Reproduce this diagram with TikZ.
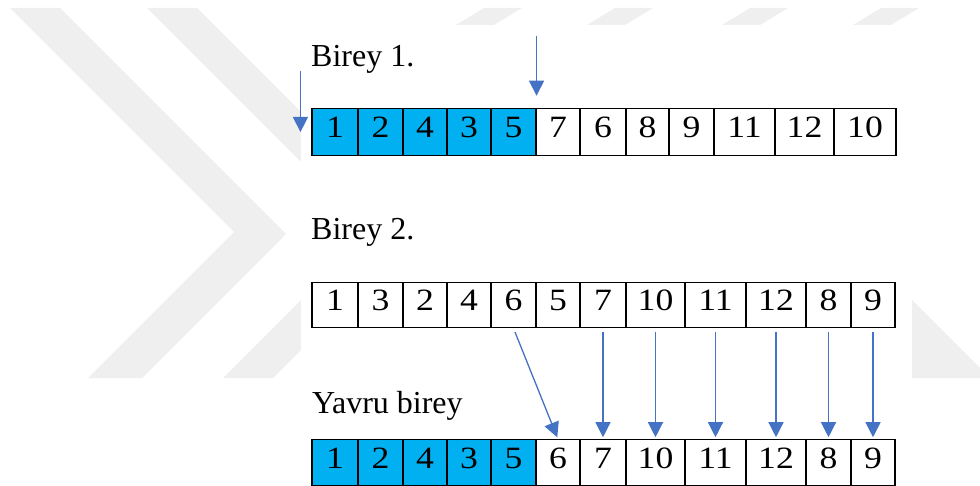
\documentclass[tikz,border=0pt]{standalone}
\usepackage{fontspec}
\setmainfont{Liberation Serif}
\newfontfamily\cellfont[FakeStretch=1.15]{Liberation Serif}
\usetikzlibrary{arrows.meta}
\definecolor{kutu}{RGB}{0,176,240}
\definecolor{okmavi}{RGB}{68,114,196}
\definecolor{filigran}{RGB}{239,239,239}

\begin{document}
\begin{tikzpicture}[x=1pt,y=-1pt]
	\tikzstyle{cell}=[draw=black, line width=1.1pt, inner sep=0pt, minimum height=45.5pt, text height=16pt, text depth=4pt, font=\cellfont\fontsize{31}{36}\selectfont]
	\tikzstyle{tall}=[minimum height=47.5pt]
	\tikzstyle{sel}=[fill=kutu]
	\tikzstyle{title}=[anchor=base west, inner sep=0pt, font=\fontsize{32}{38}\selectfont]
	\tikzstyle{flow}=[draw=okmavi, line width=1.3pt, -{Triangle[width=15pt,length=15pt]}]
	\tikzstyle{gap}=[shorten <=4pt, shorten >=2pt]
	\useasboundingbox (0,0) rectangle (980,486);
	% faint logo behind the page
	\fill[filigran] (10,8) -- (60,8) -- (286,234) -- (142,378) -- (88,378) -- (234,232) -- cycle;
	\fill[filigran] (147,8) -- (197,8) -- (420,231) -- (273,378) -- (223,378) -- (370,231) -- cycle;
	\fill[filigran] (456,25) -- (484,8) -- (522,8) -- (494,25) -- cycle;
	\fill[filigran] (587,25) -- (615,8) -- (653,8) -- (625,25) -- cycle;
	\fill[filigran] (722,25) -- (750,8) -- (788,8) -- (760,25) -- cycle;
	\fill[filigran] (853,25) -- (881,8) -- (919,8) -- (891,25) -- cycle;
	\fill[filigran] (830,218) -- (980,368) -- (980,378) -- (830,378) -- cycle;
	\fill[white] (301,25) rectangle (912,486);
	% Birey 1.
	\draw (311,67) node (l1) [title] {Birey 1.};
	\draw (335,132) node (a1) [cell,tall,sel,minimum width=46pt] {1};
	\draw (380.5,132) node (a2) [cell,tall,sel,minimum width=45pt] {2};
	\draw (425,132) node (a3) [cell,tall,sel,minimum width=44pt] {4};
	\draw (469,132) node (a4) [cell,tall,sel,minimum width=44pt] {3};
	\draw (513.5,132) node (a5) [cell,tall,sel,minimum width=45pt] {5};
	\draw (558,132) node (a6) [cell,tall,minimum width=44pt] {7};
	\draw (603,132) node (a7) [cell,tall,minimum width=46pt] {6};
	\draw (647.5,132) node (a8) [cell,tall,minimum width=43pt] {8};
	\draw (691.5,132) node (a9) [cell,tall,minimum width=45pt] {9};
	\draw (744.5,132) node (a10) [cell,tall,minimum width=61pt] {11};
	\draw (804.5,132) node (a11) [cell,tall,minimum width=59pt] {12};
	\draw (865,132) node (a12) [cell,tall,minimum width=62pt] {10};
	% Birey 2.
	\draw (311,240) node (l2) [title] {Birey 2.};
	\draw (335,305) node (b1) [cell,minimum width=46pt] {1};
	\draw (380.5,305) node (b2) [cell,minimum width=45pt] {3};
	\draw (425,305) node (b3) [cell,minimum width=44pt] {2};
	\draw (469,305) node (b4) [cell,minimum width=44pt] {4};
	\draw (513.5,305) node (b5) [cell,minimum width=45pt] {6};
	\draw (558,305) node (b6) [cell,minimum width=44pt] {5};
	\draw (603,305) node (b7) [cell,minimum width=46pt] {7};
	\draw (655.5,305) node (b8) [cell,minimum width=59pt] {10};
	\draw (715.5,305) node (b9) [cell,minimum width=61pt] {11};
	\draw (776,305) node (b10) [cell,minimum width=60pt] {12};
	\draw (828.5,305) node (b11) [cell,minimum width=45pt] {8};
	\draw (873,305) node (b12) [cell,minimum width=44pt] {9};
	% Yavru birey
	\draw (312,413) node (l3) [title] {Yavru birey};
	\draw (335,462.5) node (c1) [cell,sel,minimum width=46pt] {1};
	\draw (380.5,462.5) node (c2) [cell,sel,minimum width=45pt] {2};
	\draw (425,462.5) node (c3) [cell,sel,minimum width=44pt] {4};
	\draw (469,462.5) node (c4) [cell,sel,minimum width=44pt] {3};
	\draw (513.5,462.5) node (c5) [cell,sel,minimum width=45pt] {5};
	\draw (558,462.5) node (c6) [cell,minimum width=44pt] {6};
	\draw (603,462.5) node (c7) [cell,minimum width=46pt] {7};
	\draw (655.5,462.5) node (c8) [cell,minimum width=59pt] {10};
	\draw (715.5,462.5) node (c9) [cell,minimum width=61pt] {11};
	\draw (776,462.5) node (c10) [cell,minimum width=60pt] {12};
	\draw (828.5,462.5) node (c11) [cell,minimum width=45pt] {8};
	\draw (873,462.5) node (c12) [cell,minimum width=44pt] {9};
	% cut points
	\coordinate (k1) at ([xshift=-11pt,yshift=61pt]a1.west);
	\coordinate (k2) at ([xshift=-11pt]a1.west);
	\coordinate (k3) at ([yshift=72pt]a5.north east);
	\coordinate (k4) at ([yshift=12pt]a5.north east);
	\draw[flow] (k1) -- (k2);
	\draw[flow] (k3) -- (k4);
	% genes taken from Birey 2.
	\draw[flow,gap] (b5.south) -- (c6.north);
	\draw[flow,gap] (b7.south) -- (c7.north);
	\draw[flow,gap] (b8.south) -- (c8.north);
	\draw[flow,gap] (b9.south) -- (c9.north);
	\draw[flow,gap] (b10.south) -- (c10.north);
	\draw[flow,gap] (b11.south) -- (c11.north);
	\draw[flow,gap] (b12.south) -- (c12.north);
\end{tikzpicture}
\end{document}
